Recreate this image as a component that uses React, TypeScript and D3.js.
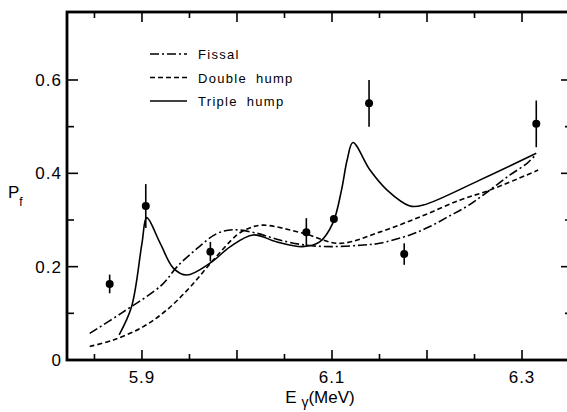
import React, { useEffect, useRef } from "react";
import * as d3 from "d3";

// Fissal (dash-dot)
const fissalE = [5.845, 5.878, 5.921, 5.937, 5.958, 5.979, 5.996, 6.02, 6.045, 6.073, 6.1, 6.13, 6.15, 6.182, 6.203, 6.224, 6.245, 6.266, 6.287, 6.305, 6.314];
const fissalP = [0.057, 0.1, 0.161, 0.2, 0.239, 0.271, 0.279, 0.272, 0.257, 0.246, 0.243, 0.246, 0.25, 0.268, 0.286, 0.309, 0.333, 0.364, 0.396, 0.421, 0.439];

// Double hump (dashed)
const doubleE = [5.845, 5.87, 5.901, 5.926, 5.951, 5.975, 6.0, 6.012, 6.027, 6.069, 6.108, 6.15, 6.193, 6.235, 6.266, 6.317];
const doubleP = [0.029, 0.043, 0.071, 0.107, 0.157, 0.214, 0.268, 0.282, 0.289, 0.272, 0.25, 0.274, 0.307, 0.343, 0.364, 0.407];

// Triple hump (solid)
const tripleE = [5.876, 5.889, 5.9, 5.905, 5.919, 5.933, 5.947, 5.972, 5.993, 6.017, 6.042, 6.069, 6.087, 6.101, 6.11, 6.116, 6.122, 6.14, 6.158, 6.182, 6.196, 6.256, 6.315];
const tripleP = [0.054, 0.114, 0.25, 0.305, 0.251, 0.197, 0.182, 0.208, 0.243, 0.268, 0.253, 0.243, 0.253, 0.294, 0.364, 0.429, 0.466, 0.407, 0.364, 0.33, 0.332, 0.386, 0.443];

// measured points with error bars
const pointE = [5.866, 5.904, 5.972, 6.073, 6.102, 6.139, 6.176, 6.315];
const pointP = [0.163, 0.33, 0.232, 0.274, 0.302, 0.55, 0.227, 0.506];
const pointErr = [0.02, 0.047, 0.021, 0.03, 0, 0.05, 0.023, 0.05];

const xMajor = [5.9, 6.0, 6.1, 6.2, 6.3];
const xMinor = [5.85, 5.95, 6.05, 6.15, 6.25];
const xLabels = [5.9, 6.1, 6.3];
const yMajor = [0.2, 0.4, 0.6];
const yMinor = [0.1, 0.3, 0.5];
const yLabels = [0, 0.2, 0.4, 0.6];

const legendNames = ["Fissal", "Double hump", "Triple hump"];
const legendDash = ["9 3 2 3", "5 3", "none"];

export default function App() {
  const ref = useRef(null);

  useEffect(() => {
    const width = 567;
    const height = 412;
    const margin = { top: 12, right: -5, bottom: 52, left: 67 };
    const font = "'Liberation Sans', Arial, sans-serif";

    const svg = d3.select(ref.current);
    svg.selectAll("*").remove();

    const x = d3.scaleLinear().domain([5.8211, 6.3526]).range([margin.left, width - margin.right]);
    const y = d3.scaleLinear().domain([0, 0.7457]).range([height - margin.bottom, margin.top]);

    const x0 = x.range()[0];
    const x1 = x.range()[1];
    const y0 = y.range()[0];
    const y1 = y.range()[1];

    // ticks (inward on all sides)
    const g = svg.append("g").attr("stroke", "#000").attr("stroke-width", 1.6);
    xMajor.forEach((v) => {
      g.append("line").attr("x1", x(v)).attr("x2", x(v)).attr("y1", y0).attr("y2", y0 - 10);
      g.append("line").attr("x1", x(v)).attr("x2", x(v)).attr("y1", y1).attr("y2", y1 + 10);
    });
    xMinor.forEach((v) => {
      g.append("line").attr("x1", x(v)).attr("x2", x(v)).attr("y1", y0).attr("y2", y0 - 6);
      g.append("line").attr("x1", x(v)).attr("x2", x(v)).attr("y1", y1).attr("y2", y1 + 6);
    });
    yMajor.forEach((v) => {
      g.append("line").attr("x1", x0).attr("x2", x0 + 11).attr("y1", y(v)).attr("y2", y(v));
      g.append("line").attr("x1", x1).attr("x2", x1 - 11).attr("y1", y(v)).attr("y2", y(v));
    });
    yMinor.forEach((v) => {
      g.append("line").attr("x1", x0).attr("x2", x0 + 7).attr("y1", y(v)).attr("y2", y(v));
      g.append("line").attr("x1", x1).attr("x2", x1 - 7).attr("y1", y(v)).attr("y2", y(v));
    });

    // frame
    svg.append("rect")
      .attr("x", x0).attr("y", y1)
      .attr("width", x1 - x0).attr("height", y0 - y1)
      .attr("fill", "none").attr("stroke", "#000").attr("stroke-width", 2.8);

    // tick labels
    svg.append("g").selectAll("text").data(xLabels).join("text")
      .attr("x", (d) => x(d)).attr("y", y0 + 23)
      .attr("text-anchor", "middle")
      .attr("font-family", font).attr("font-size", 17)
      .attr("letter-spacing", 1)
      .text((d) => d3.format(".1f")(d));

    svg.append("g").selectAll("text").data(yLabels).join("text")
      .attr("x", x0 - 5).attr("y", (d) => y(d) + 6)
      .attr("text-anchor", "end")
      .attr("font-family", font).attr("font-size", 17)
      .attr("letter-spacing", 1)
      .text((d) => (d === 0 ? "0" : d3.format(".1f")(d)));

    // axis titles
    const xt = svg.append("text")
      .attr("x", 320).attr("y", 403)
      .attr("text-anchor", "middle")
      .attr("font-family", font).attr("font-size", 17);
    xt.append("tspan").text("E ");
    xt.append("tspan").attr("dy", 4).attr("font-size", 14).text("γ");
    xt.append("tspan").attr("dy", -4).text("(MeV)");

    const yt = svg.append("text")
      .attr("x", 8).attr("y", 198)
      .attr("font-family", font).attr("font-size", 17);
    yt.append("tspan").text("P");
    yt.append("tspan").attr("dy", 8).attr("font-size", 12).text("f");

    // curves
    const line = d3.line()
      .x((d) => x(d[0]))
      .y((d) => y(d[1]))
      .curve(d3.curveCatmullRom.alpha(0.5));

    const series = [
      { e: fissalE, p: fissalP, dash: legendDash[0] },
      { e: doubleE, p: doubleP, dash: legendDash[1] },
      { e: tripleE, p: tripleP, dash: legendDash[2] },
    ];
    series.forEach((s) => {
      svg.append("path")
        .attr("d", line(s.e.map((v, i) => [v, s.p[i]])))
        .attr("fill", "none")
        .attr("stroke", "#000")
        .attr("stroke-width", 1.6)
        .attr("stroke-dasharray", s.dash);
    });

    // data points
    const pts = svg.append("g");
    pointE.forEach((v, i) => {
      if (pointErr[i] > 0) {
        pts.append("line")
          .attr("x1", x(v)).attr("x2", x(v))
          .attr("y1", y(pointP[i] - pointErr[i])).attr("y2", y(pointP[i] + pointErr[i]))
          .attr("stroke", "#000").attr("stroke-width", 1.6);
      }
      pts.append("circle")
        .attr("cx", x(v)).attr("cy", y(pointP[i]))
        .attr("r", 4).attr("fill", "#000");
    });

    // legend
    const legend = svg.append("g").attr("transform", "translate(150,54)");
    legendNames.forEach((name, i) => {
      const row = legend.append("g").attr("transform", `translate(0,${i * 23.5})`);
      row.append("line")
        .attr("x1", 0).attr("x2", 37).attr("y1", 0).attr("y2", 0)
        .attr("stroke", "#000").attr("stroke-width", 1.4)
        .attr("stroke-dasharray", legendDash[i]);
      row.append("text")
        .attr("x", 48).attr("y", 5)
        .attr("font-family", font).attr("font-size", 13)
        .attr("letter-spacing", 1.3)
        .attr("word-spacing", 4)
        .text(name);
    });
  }, []);

  return (
    <div>
      <svg
        ref={ref}
        width={567}
        height={412}
        style={{ position: "absolute", left: 0, top: 0, background: "#fff" }}
      />
    </div>
  );
}
